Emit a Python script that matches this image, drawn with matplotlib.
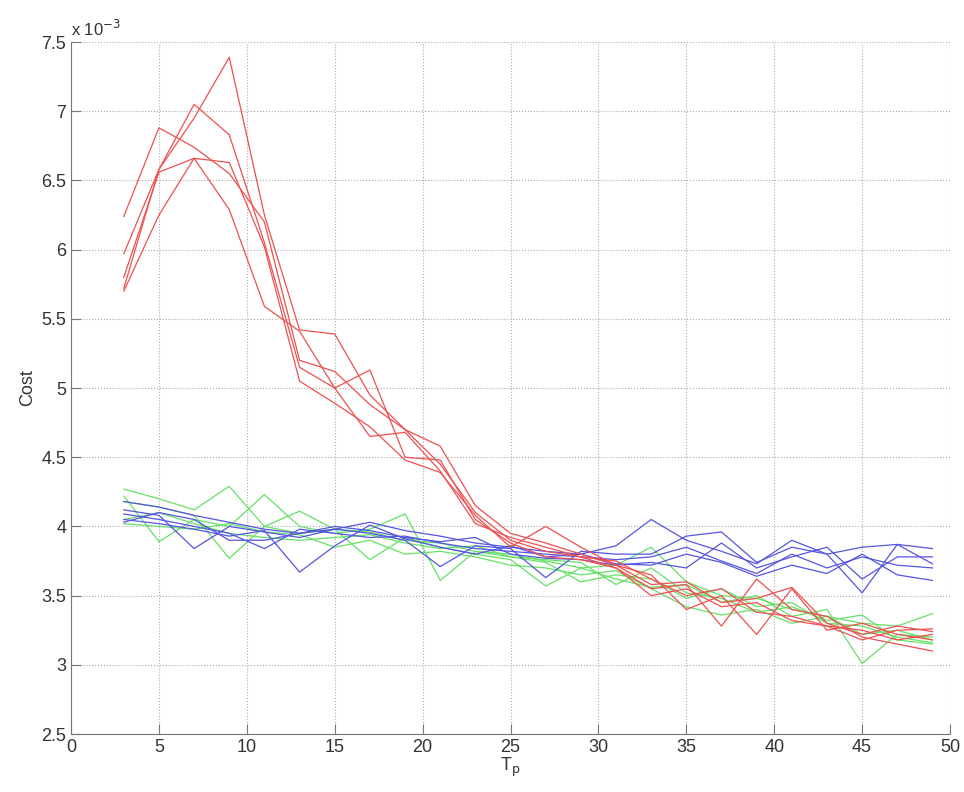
import numpy as np
from matplotlib import pyplot as plt
from matplotlib.ticker import FuncFormatter

# T_p values (odd steps 3..49)
tp = [3, 5, 7, 9, 11, 13, 15, 17, 19, 21, 23, 25, 27, 29, 31, 33, 35, 37, 39, 41, 43, 45, 47, 49]

# cost curves, in units of 1e-3
rojo = [
    [5.97, 6.58, 6.95, 7.39, 6.25, 5.42, 5.39, 4.95, 4.70, 4.58, 4.15, 3.95, 3.88, 3.80, 3.72, 3.58, 3.60, 3.45, 3.48, 3.56, 3.30, 3.22, 3.28, 3.24],
    [6.24, 6.88, 6.74, 6.55, 6.20, 5.20, 5.12, 4.88, 4.70, 4.45, 4.10, 3.90, 3.82, 3.78, 3.75, 3.62, 3.50, 3.55, 3.38, 3.35, 3.28, 3.25, 3.18, 3.22],
    [5.72, 6.58, 7.05, 6.83, 6.05, 5.15, 5.00, 5.13, 4.50, 4.48, 4.05, 3.88, 3.78, 3.76, 3.70, 3.55, 3.58, 3.28, 3.62, 3.40, 3.35, 3.20, 3.15, 3.10],
    [5.70, 6.25, 6.66, 6.63, 6.02, 5.05, 4.89, 4.72, 4.48, 4.39, 4.08, 3.85, 4.00, 3.85, 3.72, 3.65, 3.40, 3.50, 3.22, 3.55, 3.25, 3.30, 3.22, 3.18],
    [5.80, 6.56, 6.66, 6.29, 5.59, 5.41, 5.00, 4.65, 4.68, 4.40, 4.02, 3.92, 3.85, 3.78, 3.70, 3.50, 3.55, 3.42, 3.45, 3.32, 3.28, 3.18, 3.25, 3.26],
]
azul = [
    [4.18, 4.14, 4.08, 4.03, 3.98, 3.95, 3.98, 4.03, 3.97, 3.93, 3.88, 3.85, 3.82, 3.80, 3.86, 4.05, 3.90, 3.82, 3.73, 3.90, 3.80, 3.52, 3.87, 3.84],
    [4.12, 4.08, 3.84, 4.00, 3.96, 3.92, 3.98, 3.95, 3.90, 3.71, 3.86, 3.84, 3.63, 3.82, 3.80, 3.80, 3.93, 3.96, 3.74, 3.85, 3.80, 3.85, 3.87, 3.73],
    [4.09, 4.05, 4.00, 3.95, 3.84, 3.98, 3.95, 3.92, 3.93, 3.88, 3.84, 3.82, 3.80, 3.78, 3.76, 3.78, 3.85, 3.75, 3.66, 3.80, 3.70, 3.78, 3.72, 3.70],
    [4.05, 4.02, 3.98, 3.93, 3.97, 3.67, 3.86, 4.01, 3.91, 3.85, 3.80, 3.86, 3.78, 3.80, 3.73, 3.72, 3.80, 3.74, 3.64, 3.72, 3.66, 3.80, 3.65, 3.61],
    [4.03, 4.10, 4.05, 3.90, 3.90, 3.95, 4.00, 3.97, 3.92, 3.89, 3.92, 3.80, 3.77, 3.76, 3.72, 3.74, 3.70, 3.88, 3.70, 3.78, 3.85, 3.62, 3.78, 3.78],
]
verde = [
    [4.27, 4.20, 4.12, 4.29, 4.00, 3.95, 3.98, 3.96, 3.90, 3.88, 3.82, 3.80, 3.75, 3.70, 3.72, 3.85, 3.60, 3.50, 3.48, 3.40, 3.35, 3.30, 3.28, 3.37],
    [4.22, 3.89, 4.05, 4.00, 4.23, 4.00, 3.95, 3.98, 4.09, 3.61, 3.82, 3.78, 3.74, 3.60, 3.65, 3.62, 3.48, 3.55, 3.42, 3.45, 3.30, 3.28, 3.20, 3.16],
    [4.18, 4.14, 4.08, 3.77, 4.00, 4.11, 3.98, 3.76, 3.92, 3.85, 3.80, 3.76, 3.57, 3.70, 3.62, 3.56, 3.58, 3.45, 3.50, 3.35, 3.40, 3.01, 3.22, 3.20],
    [4.05, 4.10, 4.02, 3.95, 3.92, 3.90, 3.92, 3.94, 3.88, 3.84, 3.86, 3.78, 3.76, 3.74, 3.58, 3.70, 3.52, 3.48, 3.38, 3.42, 3.32, 3.36, 3.18, 3.15],
    [4.02, 4.00, 3.98, 4.02, 3.96, 3.94, 3.85, 3.90, 3.80, 3.82, 3.78, 3.72, 3.70, 3.65, 3.68, 3.55, 3.42, 3.36, 3.40, 3.30, 3.35, 3.22, 3.25, 3.18],
]

plt.rcParams['font.family'] = ['Liberation Sans Narrow', 'Liberation Sans', 'DejaVu Sans']

fig = plt.figure(figsize=(9.64, 7.92), dpi=100)
ax = fig.add_axes([0.0737, 0.0732, 0.9118, 0.8737])

for serie in verde:
    ax.plot(tp, serie, color='#66e066', lw=0.9)
for serie in azul:
    ax.plot(tp, serie, color='#5555e0', lw=0.9)
for serie in rojo:
    ax.plot(tp, serie, color='#ee5050', lw=0.9)

ax.set_xlim(0, 50)
ax.set_ylim(2.5, 7.5)
ax.set_xticks(np.arange(0, 51, 5))
ax.set_yticks(np.arange(2.5, 7.51, 0.5))
ax.yaxis.set_major_formatter(FuncFormatter(lambda v, p: f"{v:g}"))

ax.grid(True, linestyle=':', color='#aaaaaa', lw=0.8)
for lado in ['top', 'right']:
    ax.spines[lado].set_visible(False)
for lado in ['left', 'bottom']:
    ax.spines[lado].set_color('#777777')
ax.tick_params(direction='in', length=7, color='#777777', labelsize=13, labelcolor='#333333')

ax.set_xlabel("T$_\\mathrm{p}$", fontsize=13, labelpad=0, color='#333333')
ax.set_ylabel("Cost", fontsize=13, labelpad=4, color='#333333')
ax.text(0.0, 1.005, "x 10$^{-3}$", transform=ax.transAxes, fontsize=12, color='#333333', va='bottom')

fig.savefig("out.png", dpi=100)
